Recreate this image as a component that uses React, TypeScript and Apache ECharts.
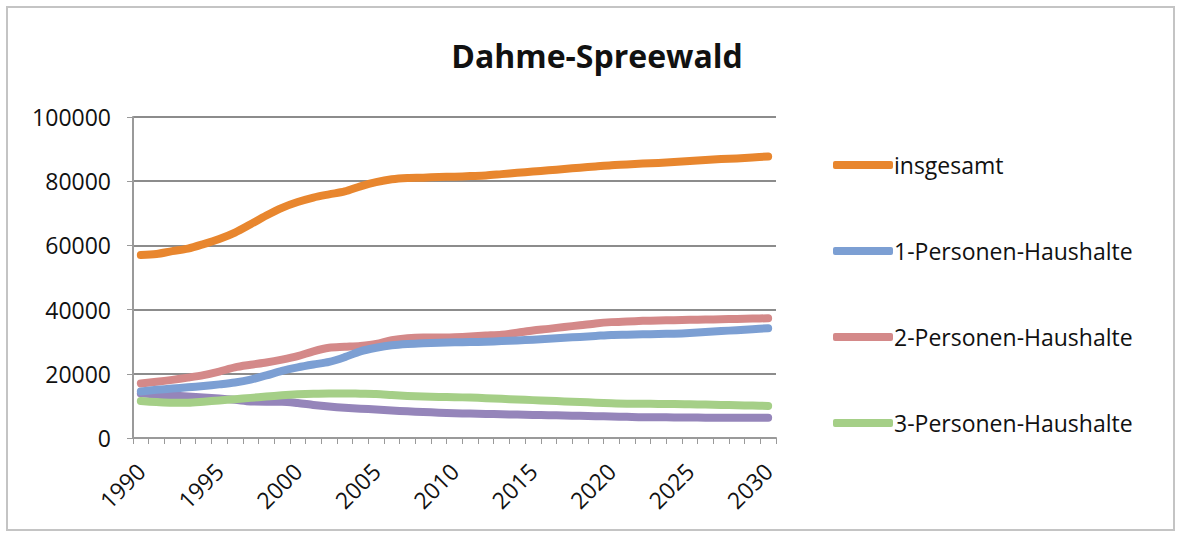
import React, { useEffect, useRef } from "react";
import * as echarts from "echarts";

const years: string[] = [];
for (let y = 1990; y <= 2030; y++) years.push(String(y));

const insgesamt = [
  57000, 57300, 58200, 59000, 60400, 62000, 64000, 66600, 69300, 71700,
  73500, 74900, 75900, 76800, 78400, 79700, 80600, 81000, 81100, 81300,
  81400, 81600, 81800, 82200, 82600, 83000, 83400, 83800, 84200, 84600,
  85000, 85200, 85500, 85700, 86000, 86300, 86600, 86900, 87100, 87400, 87700,
];
const p1 = [
  14500, 15000, 15400, 15800, 16200, 16700, 17300, 18200, 19500, 20900,
  22000, 22900, 23700, 25200, 27000, 28100, 28900, 29300, 29500, 29700,
  29800, 29900, 30000, 30200, 30400, 30600, 30900, 31200, 31500, 31800,
  32100, 32200, 32300, 32400, 32500, 32700, 33000, 33300, 33600, 33900, 34200,
];
const p2 = [
  17000, 17500, 18100, 18800, 19600, 20700, 22000, 22800, 23500, 24400,
  25500, 27000, 28100, 28400, 28700, 29300, 30500, 31100, 31300, 31300,
  31400, 31600, 31900, 32200, 32800, 33500, 34000, 34600, 35100, 35700,
  36100, 36300, 36500, 36600, 36700, 36800, 36900, 37000, 37100, 37200, 37300,
];
const p3 = [
  11500, 11200, 11000, 11000, 11300, 11700, 12100, 12500, 12900, 13300,
  13600, 13800, 13900, 13900, 13800, 13700, 13400, 13100, 12900, 12800,
  12700, 12600, 12400, 12200, 12000, 11800, 11600, 11400, 11200, 11000,
  10800, 10700, 10700, 10600, 10600, 10500, 10400, 10300, 10200, 10100, 10000,
];
const p4 = [
  13900, 13500, 13200, 12900, 12600, 12300, 11900, 11400, 11300, 11300,
  10900, 10300, 9800, 9400, 9100, 8900, 8600, 8300, 8100, 7900,
  7700, 7600, 7500, 7400, 7300, 7200, 7100, 7000, 6900, 6800,
  6700, 6600, 6500, 6500, 6400, 6400, 6300, 6300, 6300, 6300, 6300,
];

const seriesNames = [
  "insgesamt",
  "1-Personen-Haushalte",
  "2-Personen-Haushalte",
  "3-Personen-Haushalte",
  "4-Personen-Haushalte",
];
const seriesData = [insgesamt, p1, p2, p3, p4];
const colors = ["#E8862E", "#7C9FD3", "#D48989", "#A5CF87", "#9585BA"];
const legendNames = seriesNames.slice(0, 4);

const FONT = "'Open Sans', 'Noto Sans', sans-serif";

export default function App() {
  const ref = useRef<HTMLDivElement>(null);
  useEffect(() => {
    if (!ref.current) return;
    const chart = echarts.init(ref.current, undefined, { renderer: "svg" });
    chart.setOption({
      animation: false,
      backgroundColor: "#ffffff",
      title: {
        text: "Dahme-Spreewald",
        left: 592,
        textAlign: "center",
        top: 34,
        textStyle: { fontFamily: FONT, fontWeight: "bold", fontSize: 32, color: "#111" },
      },
      graphic: [
        {
          type: "rect",
          shape: { x: 7, y: 7, width: 1167, height: 523 },
          style: { fill: "none", stroke: "#c4c4c4", lineWidth: 2 },
          silent: true,
        },
      ],
      legend: {
        data: legendNames,
        orient: "vertical",
        left: 828,
        top: 148,
        itemGap: 62,
        itemWidth: 60,
        itemHeight: 8,
        icon: "roundRect",
        textStyle: {
          fontFamily: FONT,
          fontSize: 23,
          lineHeight: 24,
          color: "#111",
          padding: [0, 0, 0, -4],
        },
      },
      grid: { left: 133, right: 404, top: 117, bottom: 96, containLabel: false },
      xAxis: {
        type: "category",
        data: years,
        boundaryGap: true,
        axisLine: { lineStyle: { color: "#9a9a9a", width: 2 } },
        axisTick: { show: true, interval: 0, length: 6, lineStyle: { color: "#9a9a9a" } },
        axisLabel: {
          interval: 4,
          rotate: 45,
          fontFamily: FONT,
          fontSize: 23,
          color: "#111",
          margin: 29,
        },
      },
      yAxis: {
        type: "value",
        min: 0,
        max: 100000,
        interval: 20000,
        axisLine: { show: true, lineStyle: { color: "#9a9a9a", width: 2 } },
        axisTick: { show: true, length: 6, lineStyle: { color: "#9a9a9a" } },
        splitLine: { lineStyle: { color: "#8c8c8c", width: 2 } },
        axisLabel: {
          fontFamily: FONT,
          fontSize: 23,
          color: "#111",
          margin: 22,
          formatter: (v: number) => String(v),
        },
      },
      series: seriesNames.map((name, i) => ({
        name,
        type: "line",
        data: seriesData[i],
        symbol: "none",
        smooth: 0.3,
        lineStyle: { color: colors[i], width: 8, cap: "round", join: "round" },
        itemStyle: { color: colors[i] },
        z: 10 - i,
      })),
    });
    return () => chart.dispose();
  }, []);
  return (
    <div
      ref={ref}
      style={{ position: "fixed", left: 0, top: 0, width: 1180, height: 534 }}
    />
  );
}
